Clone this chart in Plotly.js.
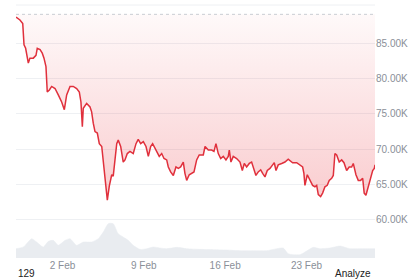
<!DOCTYPE html>
<html>
<head>
<meta charset="utf-8">
<script src="https://cdn.plot.ly/plotly-3.0.1.min.js"></script>
<style>html,body{margin:0;padding:0;background:#fff;}#chart{width:420px;height:280px;}</style>
</head>
<body>
<div id="chart"></div>
<script>
// Start of the 30-day window (UTC)
const startDate = "2026-01-29T00:00:00Z";
// Price series: day offset from start, price in thousands USD
const priceDays = [0.00,0.34,0.58,0.69,0.83,0.92,1.06,1.20,1.49,1.72,1.83,2.07,2.26,2.41,2.58,2.69,2.87,3.07,3.36,3.64,3.93,4.16,4.36,4.65,4.93,5.22,5.45,5.59,5.71,5.79,6.08,6.37,6.51,6.65,6.80,7.00,7.17,7.38,7.51,7.66,7.86,8.03,8.24,8.37,8.52,8.67,8.80,9.01,9.23,9.38,9.58,9.81,10.09,10.33,10.52,10.73,10.96,11.19,11.39,11.59,11.76,11.96,12.11,12.33,12.54,12.74,12.97,13.11,13.31,13.54,13.77,13.97,14.17,14.40,14.54,14.69,14.91,15.12,15.32,15.55,15.77,16.12,16.27,16.55,16.84,17.04,17.21,17.41,17.62,17.84,18.07,18.27,18.36,18.50,18.70,18.99,19.28,19.48,19.65,19.85,20.08,20.28,20.42,20.65,20.85,21.06,21.23,21.43,21.63,21.86,22.09,22.23,22.38,22.57,22.87,23.15,23.43,23.81,24.16,24.38,24.67,24.78,24.87,25.07,25.30,25.53,25.73,25.88,26.02,26.22,26.39,26.59,26.79,26.96,27.17,27.31,27.45,27.60,27.82,28.03,28.23,28.46,28.68,28.89,29.03,29.26,29.46,29.66,29.84,29.97,30.12,30.32,30.53,30.70,30.84,30.90];
const priceK = [88.7,88.3,87.8,84.8,84.3,83.6,82.2,82.9,82.9,83.3,84.3,84.1,83.6,82.9,81.7,78.1,78.4,78.9,78.6,77.7,76.7,75.6,77.7,78.9,78.9,78.6,78.1,76.7,73.2,75.8,76.5,76.0,75.3,73.7,72.5,72.3,70.8,70.4,68.4,65.5,62.8,64.8,66.4,66.2,68.5,70.8,71.3,70.4,68.2,68.5,69.4,69.7,69.4,70.8,71.4,70.8,71.1,70.4,69.0,70.4,70.8,70.2,69.7,69.0,69.4,68.7,68.5,67.5,66.8,66.3,67.5,67.3,67.5,68.2,66.6,65.6,66.4,66.6,66.8,68.5,69.2,69.2,70.4,69.9,69.9,69.7,70.8,69.4,68.7,69.0,68.5,69.0,69.9,68.2,69.0,68.7,68.2,67.0,68.0,67.5,68.0,68.2,67.5,66.3,66.8,67.1,66.6,66.1,67.0,67.3,67.8,68.1,67.0,67.8,68.0,68.2,68.6,68.1,68.1,67.8,67.5,66.6,64.9,66.4,65.7,64.9,64.7,64.9,63.6,63.3,63.8,64.7,64.9,65.6,65.9,66.3,69.4,69.2,68.2,68.5,68.1,67.0,67.5,67.5,68.0,66.4,65.6,65.6,65.9,63.8,63.5,64.7,65.6,67.0,67.3,67.8];
// Opening price reference (dotted line), thousands USD
const openK = 89.1;
// Volume series: day offset, volume (billions USD)
const volDays = [0.00,0.63,1.35,1.78,2.35,2.78,3.21,3.64,4.22,4.65,5.22,5.79,6.51,7.08,7.51,7.94,8.37,8.80,9.23,9.66,10.09,10.67,11.25,11.82,12.39,12.97,13.83,14.69,15.83,16.98,18.13,19.28,20.42,21.57,22.44,23.00,23.43,23.86,24.44,24.87,25.59,26.16,27.02,27.88,28.74,29.60,30.46,30.90];
const volumeB = [28,33,58,48,33,50,53,38,53,58,38,48,48,58,78,103,103,73,63,53,38,26,28,33,30,28,32,28,26,25,24,22,22,22,28,30,13,10,10,18,32,28,30,36,28,28,28,28];
// Axis ticks
const priceTicks = [60,65,70,75,80,85];
const priceTickLabels = ["60.00K","65.00K","70.00K","75.00K","80.00K","85.00K"];
const dateTicks = ["2026-02-02","2026-02-09","2026-02-16","2026-02-23"];
const dateTickLabels = ["2 Feb","9 Feb","16 Feb","23 Feb"];
const footLeft = "129";
const footRight = "Analyze";

const t0 = Date.parse(startDate);
function toDate(d){ return new Date(t0 + d*86400000).toISOString().slice(0,19).replace('T',' '); }
const px = priceDays.map(toDate);
const vx = volDays.map(toDate);
const xStart = px[0], xEnd = px[px.length-1];

const volTrace = {
  x: vx, y: volumeB, yaxis: 'y2', type: 'scatter', mode: 'lines',
  line: {color: '#e9ecf0', width: 0.5, shape: 'spline', smoothing: 0.6},
  fill: 'tozeroy', fillcolor: '#e9ecf0', hoverinfo: 'skip'
};
const baseTrace = {
  x: [xStart, xEnd], y: [openK, openK], type: 'scatter', mode: 'lines',
  line: {color: '#c9cdd3', width: 1, dash: 'dot'}, hoverinfo: 'skip'
};
const priceTrace = {
  x: px, y: priceK, type: 'scatter', mode: 'lines',
  line: {color: '#e0303c', width: 1.5},
  fill: 'tonexty',
  fillgradient: {type: 'vertical', start: 62, stop: 89.1,
    colorscale: [[0, 'rgba(234,57,67,0.26)'], [1, 'rgba(234,57,67,0.03)']]}
};

const layout = {
  width: 420, height: 280,
  margin: {l: 16, r: 45, t: 5, b: 22},
  paper_bgcolor: '#ffffff', plot_bgcolor: '#ffffff',
  showlegend: false,
  font: {family: 'Liberation Sans, Arial, sans-serif', size: 10, color: '#8a8f98'},
  xaxis: {
    type: 'date', range: [xStart, xEnd], showgrid: false, zeroline: false, showline: false,
    tickvals: dateTicks, ticktext: dateTickLabels, ticks: '', fixedrange: true,
    tickfont: {size: 10, color: '#8a8f98'}
  },
  yaxis: {
    side: 'right', range: [54.62, 90.42], tickvals: priceTicks, ticktext: priceTickLabels,
    showgrid: true, gridcolor: '#eef0f3', gridwidth: 1, zeroline: false, showline: false,
    ticks: '', tickfont: {size: 10, color: '#8a8f98'}
  },
  yaxis2: {
    overlaying: 'y', range: [0, 759], visible: false, showgrid: false, zeroline: false
  },
  shapes: [
    {type: 'line', xref: 'paper', yref: 'paper', x0: 0, x1: 1, y0: 1, y1: 1,
     line: {color: '#eef0f3', width: 1}}
  ],
  annotations: [
    {text: footLeft, xref: 'paper', yref: 'paper', x: 0, y: 0, xanchor: 'left', yanchor: 'middle',
     yshift: -15, showarrow: false, font: {size: 10, color: '#222', family: 'Liberation Sans, Arial, sans-serif'}},
    {text: footRight, xref: 'paper', yref: 'paper', x: 0.995, y: 0, xanchor: 'right', yanchor: 'middle',
     yshift: -15, showarrow: false, font: {size: 10, color: '#222', family: 'Liberation Sans, Arial, sans-serif'}}
  ]
};

Plotly.newPlot('chart', [volTrace, baseTrace, priceTrace], layout, {displayModeBar: false, staticPlot: true});
</script>
</body>
</html>
